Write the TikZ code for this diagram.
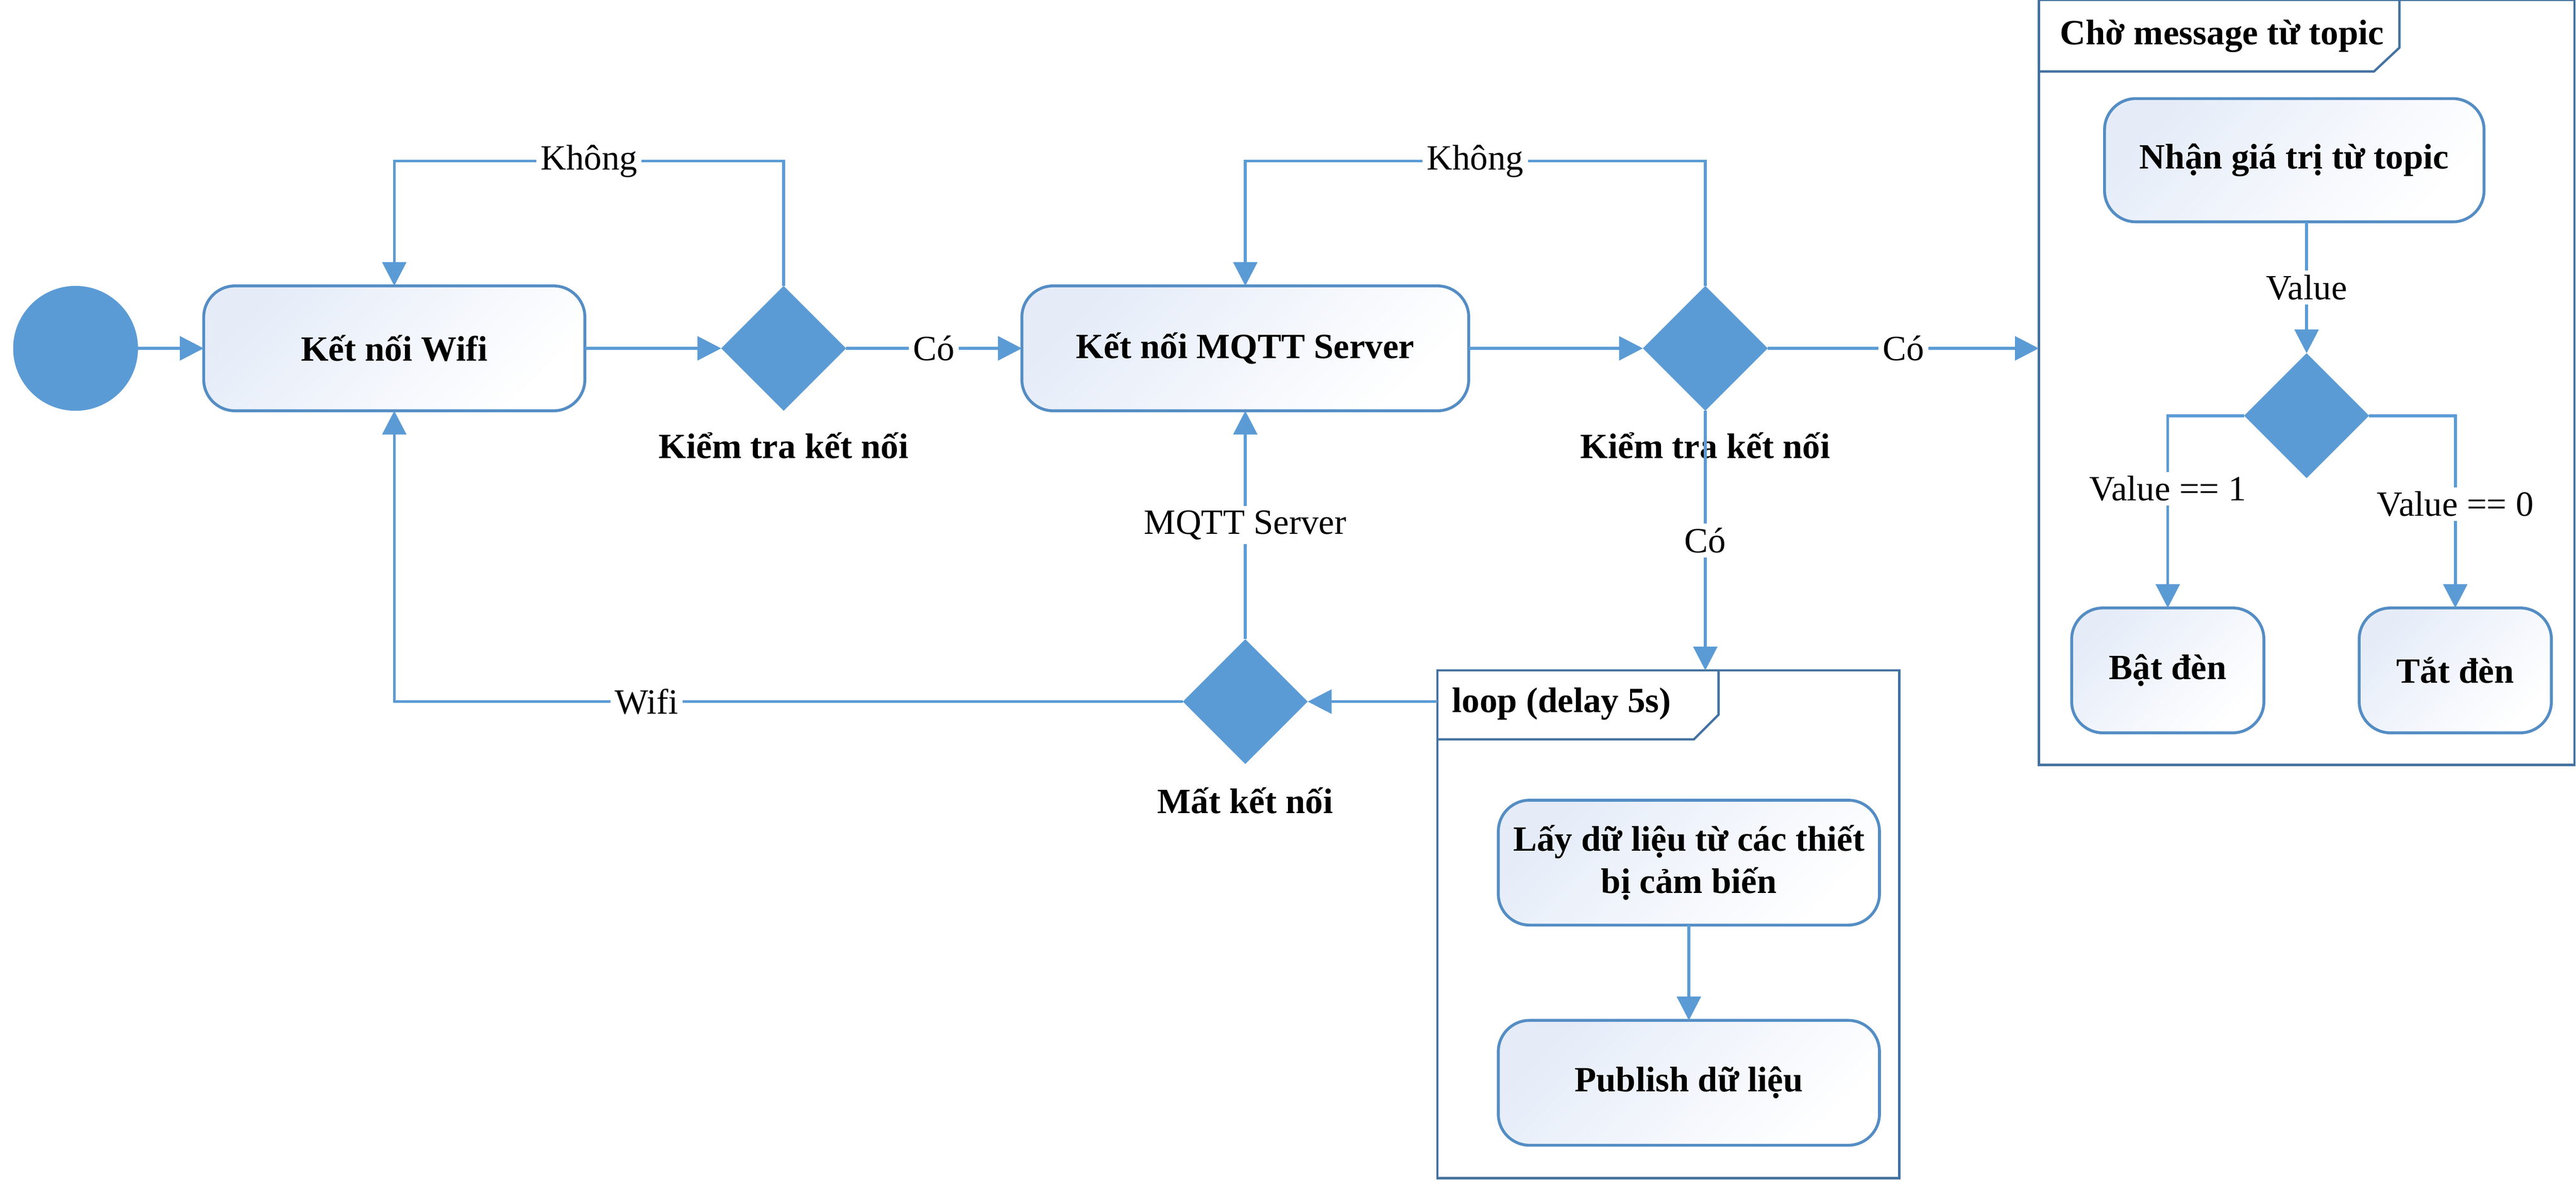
\documentclass[tikz,border=0pt]{standalone}
\usepackage{fontspec}
\setmainfont{Liberation Serif}
\usetikzlibrary{shapes.geometric, arrows.meta, positioning}
\definecolor{flowblue}{RGB}{91,155,213}
\definecolor{boxline}{RGB}{84,141,196}
\definecolor{frameline}{RGB}{68,114,160}
\definecolor{boxtint}{RGB}{229,236,248}

\begin{document}
\fontsize{12.3pt}{14.5pt}\selectfont
\begin{tikzpicture}[line width=1pt, >={Triangle[length=0.29cm,width=0.29cm]},
  action/.style={rectangle, rounded corners=0.38cm, draw=boxline, top color=boxtint, bottom color=white, shading angle=45, minimum height=1.52cm, outer sep=0pt, font=\bfseries, align=center},
  decision/.style={diamond, fill=flowblue, minimum size=1.52cm, inner sep=0pt, outer sep=0pt},
  flow/.style={draw=flowblue, ->},
  lbl/.style={fill=white, inner sep=1.5pt},
  dlabel/.style={anchor=base, font=\bfseries},
  frame/.style={draw=frameline, line width=0.8pt}]
\useasboundingbox (0,0) rectangle (31.36,-14.37);

\node[circle, fill=flowblue, minimum size=1.52cm, inner sep=0pt, outer sep=0pt] (start) at (0.92,-4.24) {};
\node[action, minimum width=4.64cm, right=0.8cm of start] (wifi) {Kết nối Wifi};
\node[decision, right=1.66cm of wifi] (chk1) {};
\node[action, minimum width=5.44cm, right=2.14cm of chk1] (mqtt) {Kết nối MQTT Server};
\node[decision, right=2.12cm of mqtt] (chk2) {};
\node[decision, below=2.78cm of mqtt] (lost) {};
\node[dlabel] at ([yshift=-0.58cm]chk1.south) {Kiểm tra kết nối};
\node[dlabel] at ([yshift=-0.58cm]chk2.south) {Kiểm tra kết nối};
\node[dlabel] at ([yshift=-0.6cm]lost.south) {Mất kết nối};

\node[frame, minimum width=5.62cm, minimum height=6.18cm, anchor=north west, inner sep=0pt, outer sep=0pt] (loopfr) at (17.5,-8.16) {};
\draw[frame] ([yshift=-0.84cm]loopfr.north west) -- ++(3.12,0) -- ++(0.3,0.3) -- ++(0,0.54);
\node[anchor=west, inner sep=0pt, font=\bfseries] at ([xshift=0.16cm, yshift=-0.41cm]loopfr.north west) {loop (delay 5s)};
\node[action, minimum width=4.64cm] (read) at (20.56,-10.5) {Lấy dữ liệu từ các thiết\\bị cảm biến};
\node[action, minimum width=4.64cm, below=1.16cm of read] (pub) {Publish dữ liệu};

\node[frame, minimum width=6.52cm, minimum height=9.31cm, anchor=north west, inner sep=0pt, outer sep=0pt] (waitfr) at (24.82,0) {};
\draw[frame] ([yshift=-0.87cm]waitfr.north west) -- ++(4.08,0) -- ++(0.31,0.29) -- ++(0,0.58);
\node[anchor=west, inner sep=0pt, font=\bfseries] at ([xshift=0.24cm, yshift=-0.44cm]waitfr.north west) {Chờ message từ topic};
\node[action, minimum width=4.62cm, minimum height=1.5cm] (recv) at (27.93,-1.95) {Nhận giá trị từ topic};
\node[decision] (chk3) at (28.08,-5.06) {};
\node[action, minimum width=2.34cm] (on) at (26.39,-8.16) {Bật đèn};
\node[action, minimum width=2.34cm] (off) at (29.89,-8.16) {Tắt đèn};

\draw[flow] (start) -- (wifi);
\draw[flow] (wifi) -- (chk1);
\draw[flow] (chk1.north) -- ++(0,1.52) -| node[lbl, pos=0.25]{Không} (wifi.north);
\draw[flow] (chk1) -- node[lbl]{Có} (mqtt);
\draw[flow] (mqtt) -- (chk2);
\draw[flow] (chk2.north) -- ++(0,1.52) -| node[lbl, pos=0.25]{Không} (mqtt.north);
\draw[flow] (chk2.east) -- node[lbl]{Có} (chk2.east -| waitfr.west);
\draw[flow] (chk2.south) -- node[lbl]{Có} (chk2.south |- loopfr.north);
\draw[flow] (loopfr.west |- lost) -- (lost.east);
\draw[flow] (lost.north) -- node[lbl]{MQTT Server} (mqtt.south);
\draw[flow] (lost.west) -| node[lbl, pos=0.34]{Wifi} (wifi.south);
\draw[flow] (read) -- (pub);
\draw[flow] (recv.south -| chk3.north) -- node[lbl]{Value} (chk3.north);
\draw[flow] (chk3.west) -| node[lbl, pos=0.69]{Value == 1} (on.north);
\draw[flow] (chk3.east) -| node[lbl, pos=0.73]{Value == 0} (off.north);
\end{tikzpicture}
\end{document}
